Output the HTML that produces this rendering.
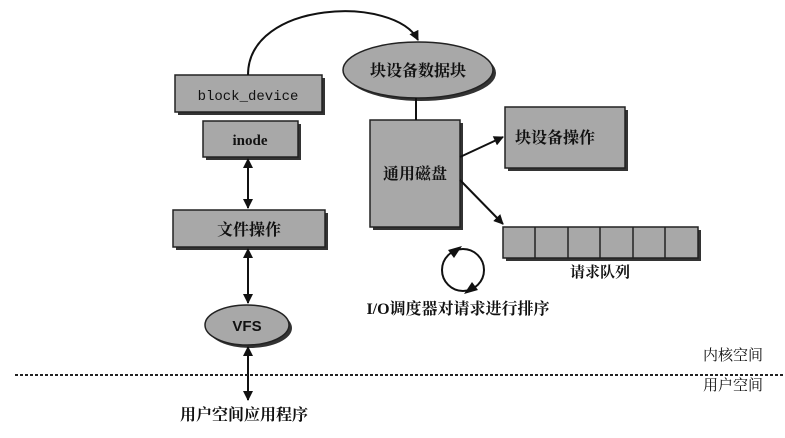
<!DOCTYPE html>
<html><head><meta charset="utf-8"><style>
body{margin:0;background:#fff;}
svg{display:block}
text{font-family:"Liberation Serif","Noto Serif CJK SC","Noto Sans CJK SC",serif;font-weight:bold;fill:#111}
</style></head><body>
<svg width="785" height="438" viewBox="0 0 785 438" xmlns="http://www.w3.org/2000/svg">
<defs>
<marker id="a" markerWidth="10" markerHeight="10" refX="9" refY="5" orient="auto" markerUnits="userSpaceOnUse"><path d="M0,0 L10,5 L0,10 z" fill="#111"/></marker>
<marker id="b" markerWidth="10" markerHeight="10" refX="1" refY="5" orient="auto" markerUnits="userSpaceOnUse"><path d="M10,0 L0,5 L10,10 z" fill="#111"/></marker>
</defs>
<g fill="#333">
<rect x="178" y="78" width="147" height="37"/><rect x="206" y="124" width="95" height="36"/>
<rect x="176" y="213" width="152" height="37"/><rect x="373" y="123" width="90" height="107"/>
<rect x="508" y="110" width="120" height="61"/><rect x="506" y="230" width="195" height="31"/>
<ellipse cx="421" cy="73" rx="75" ry="28"/><ellipse cx="250" cy="328" rx="42" ry="20"/>
</g>
<g fill="#a8a8a8" stroke="#222" stroke-width="1.5">
<rect x="175" y="75" width="147" height="37"/><rect x="203" y="121" width="95" height="36"/>
<rect x="173" y="210" width="152" height="37"/><rect x="370" y="120" width="90" height="107"/>
<rect x="505" y="107" width="120" height="61"/><rect x="503" y="227" width="195" height="31"/>
<ellipse cx="418" cy="70" rx="75" ry="28"/><ellipse cx="247" cy="325" rx="42" ry="20"/>
</g>
<g stroke="#222" stroke-width="1.5"><line x1="535" y1="227" x2="535" y2="258"/><line x1="568" y1="227" x2="568" y2="258"/><line x1="600" y1="227" x2="600" y2="258"/><line x1="633" y1="227" x2="633" y2="258"/><line x1="665" y1="227" x2="665" y2="258"/></g>
<g stroke="#111" stroke-width="2" fill="none">
<path d="M248,75 C248,0 395,-5 418,40" marker-end="url(#a)"/>
<line x1="416" y1="98" x2="416" y2="120"/>
<line x1="460" y1="157" x2="503" y2="137" marker-end="url(#a)"/>
<line x1="460" y1="180" x2="503" y2="224" marker-end="url(#a)"/>
<line x1="248" y1="159" x2="248" y2="208" marker-start="url(#b)" marker-end="url(#a)"/>
<line x1="248" y1="249" x2="248" y2="303" marker-start="url(#b)" marker-end="url(#a)"/>
<line x1="248" y1="347" x2="248" y2="400" marker-start="url(#b)" marker-end="url(#a)"/>
<circle cx="463" cy="270" r="21"/>
</g>
<path d="M448,250 L462,246 L454,258 z" fill="#111"/>
<path d="M478,290 L464,294 L472,282 z" fill="#111"/>
<line x1="15" y1="375" x2="785" y2="375" stroke="#222" stroke-width="2" stroke-dasharray="3,2"/>
<text x="248" y="100" text-anchor="middle" font-size="14" style="font-family:'Liberation Mono',monospace;font-weight:normal">block_device</text>
<text x="250" y="145" text-anchor="middle" font-size="15">inode</text>
<text x="249" y="235" text-anchor="middle" font-size="16">文件操作</text>
<text x="418" y="76" text-anchor="middle" font-size="16">块设备数据块</text>
<text x="415" y="179" text-anchor="middle" font-size="16">通用磁盘</text>
<text x="555" y="143" text-anchor="middle" font-size="16">块设备操作</text>
<text x="600" y="277" text-anchor="middle" font-size="15">请求队列</text>
<text x="247" y="331" text-anchor="middle" font-size="15" style="font-family:'Liberation Sans',sans-serif">VFS</text>
<text x="458" y="314" text-anchor="middle" font-size="16">I/O调度器对请求进行排序</text>
<text x="733" y="360" text-anchor="middle" font-size="15" style="font-weight:normal">内核空间</text>
<text x="733" y="390" text-anchor="middle" font-size="15" style="font-weight:normal">用户空间</text>
<text x="244" y="420" text-anchor="middle" font-size="16">用户空间应用程序</text>
</svg>
</body></html>
